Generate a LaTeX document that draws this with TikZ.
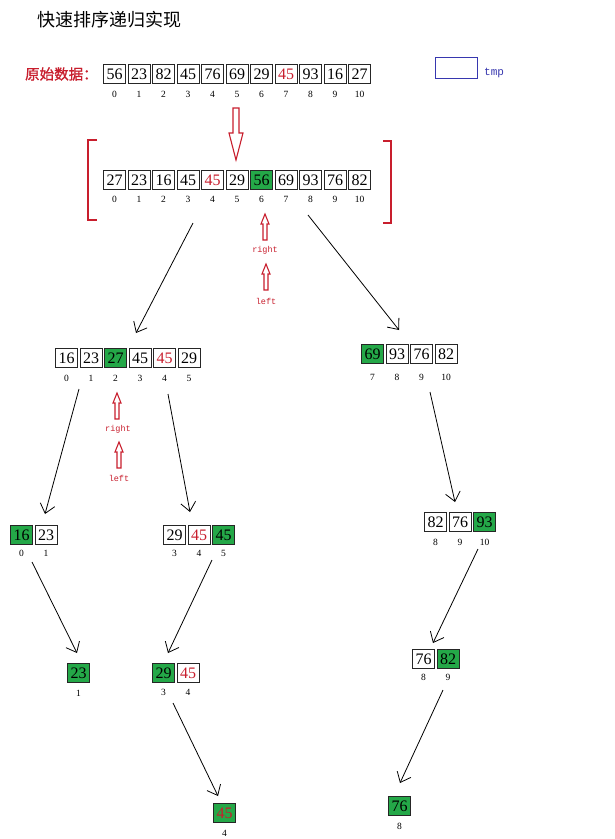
\documentclass[tikz,border=0pt]{standalone}
\usepackage{fontspec}
\setmainfont{Liberation Serif}
\newfontfamily\cjkf{Noto Sans CJK SC}
\newfontfamily\cjkbf[FakeBold=1.2]{Noto Sans CJK SC}
\newfontfamily\monof{Liberation Mono}
\usetikzlibrary{arrows.meta}
\definecolor{cgreen}{RGB}{36,168,72}
\definecolor{cred}{RGB}{200,30,45}
\definecolor{cblue}{RGB}{55,55,175}
\tikzset{
  cell/.style={draw=black!85, line width=0.7pt, minimum width=22pt, minimum height=19pt,
    inner sep=0pt, font=\fontsize{16}{16}\selectfont},
  wc/.style={fill=white},
  gc/.style={fill=cgreen},
  rc/.style={fill=white,text=cred},
  grc/.style={fill=cgreen,text=cred},
  idx/.style={inner sep=0pt, font=\fontsize{9.5}{9.5}\selectfont},
  ptr/.style={inner sep=0pt, text=cred, font=\monof\fontsize{8.5}{8.5}\selectfont},
  conn/.style={draw=black, line width=0.8pt, -{Straight Barb[length=9pt,width=15pt,line width=0.8pt]}},
  hollow/.style={draw=cred, line width=1.1pt, fill=white, line join=miter},
  bracket/.style={draw=cred, line width=1.2pt}
}
\newcommand\cellrow[5]{%
  \foreach \v/\s/\i [count=\k from 0] in {#5} {
    \node[cell,\s] (#1c\k) at ({#2+11.5+24.5*\k},#3) {\v};
    \node[idx] (#1i\k) at ({#2+11.5+24.5*\k},#4) {\i};
  }}
\newcommand\uparrowshape[2]{%
  \draw[hollow] (#1,#2) -- ({#1+4},{#2+10}) -- ({#1+2},{#2+10}) -- ({#1+2},{#2+26})
    -- ({#1-2},{#2+26}) -- ({#1-2},{#2+10}) -- ({#1-4},{#2+10}) -- cycle;}
\begin{document}
\begin{tikzpicture}[x=1pt,y=-1pt]
\useasboundingbox[fill=white] (0,0) rectangle (614,839);

% title
\node[anchor=west, inner sep=0pt, font=\cjkf\fontsize{18}{18}\selectfont] (title) at (37,20) {快速排序递归实现};
\node[anchor=west, inner sep=0pt, text=cred, font=\cjkbf\fontsize{14.5}{14.5}\selectfont] (orig) at (25,74) {原始数据：};

% tmp box
\node[draw=cblue, line width=1pt, minimum width=42pt, minimum height=21pt, inner sep=0pt] (tmpbox) at (456,67.5) {};
\node[anchor=west, inner sep=0pt, text=cblue, font=\monof\fontsize{11}{11}\selectfont] (tmplabel) at (484,73) {tmp};

% rows
\cellrow{ra}{103}{74}{94}{56/wc/0,23/wc/1,82/wc/2,45/wc/3,76/wc/4,69/wc/5,29/wc/6,45/rc/7,93/wc/8,16/wc/9,27/wc/10}
\cellrow{rb}{103}{180}{199}{27/wc/0,23/wc/1,16/wc/2,45/wc/3,45/rc/4,29/wc/5,56/gc/6,69/wc/7,93/wc/8,76/wc/9,82/wc/10}
\cellrow{rc}{55}{358}{378}{16/wc/0,23/wc/1,27/gc/2,45/wc/3,45/rc/4,29/wc/5}
\cellrow{rd}{361}{354}{377}{69/gc/7,93/wc/8,76/wc/9,82/wc/10}
\cellrow{re}{10}{535}{553}{16/gc/0,23/wc/1}
\cellrow{rf}{163}{535}{553}{29/wc/3,45/rc/4,45/gc/5}
\cellrow{rg}{424}{522}{542}{82/wc/8,76/wc/9,93/gc/10}
\cellrow{rh}{67}{673}{693}{23/gc/1}
\cellrow{ri}{152}{673}{692}{29/gc/3,45/rc/4}
\cellrow{rj}{412}{659}{677}{76/wc/8,82/gc/9}
\cellrow{rk}{213}{813}{833}{45/grc/4}
\cellrow{rl}{388}{806}{826}{76/gc/8}

% big hollow down arrow
\draw[hollow] (233,108) -- (239,108) -- (239,133) -- (243,133) -- (236,160) -- (229,133) -- (233,133) -- cycle;

% brackets
\draw[bracket] (97,140) -- (88,140) -- (88,220) -- (97,220);
\draw[bracket] (383,141) -- (391,141) -- (391,223) -- (383,223);

% pointer arrows
\uparrowshape{265}{214}
\node[ptr] (right1) at (265,250) {right};
\uparrowshape{266}{264}
\node[ptr] (left1) at (266,301) {left};
\uparrowshape{117}{393}
\node[ptr] (right2) at (118,429) {right};
\uparrowshape{119}{442}
\node[ptr] (left2) at (119,478) {left};

% connector end points
\coordinate (a1s) at (193,223); \coordinate (a1e) at (136,333);
\coordinate (a2s) at (308,215); \coordinate (a2e) at (399,330);
\coordinate (a3s) at (79,389);  \coordinate (a3e) at (45,514);
\coordinate (a4s) at (168,394); \coordinate (a4e) at (190,512);
\coordinate (a5s) at (430,392); \coordinate (a5e) at (455,502);
\coordinate (a6s) at (32,562);  \coordinate (a6e) at (77,653);
\coordinate (a7s) at (212,560); \coordinate (a7e) at (168,653);
\coordinate (a8s) at (478,549); \coordinate (a8e) at (433,643);
\coordinate (a9s) at (173,703); \coordinate (a9e) at (218,796);
\coordinate (a10s) at (443,690); \coordinate (a10e) at (400,783);
\foreach \n in {1,...,10} { \draw[conn] (a\n s) -- (a\n e); }
\end{tikzpicture}
\end{document}
